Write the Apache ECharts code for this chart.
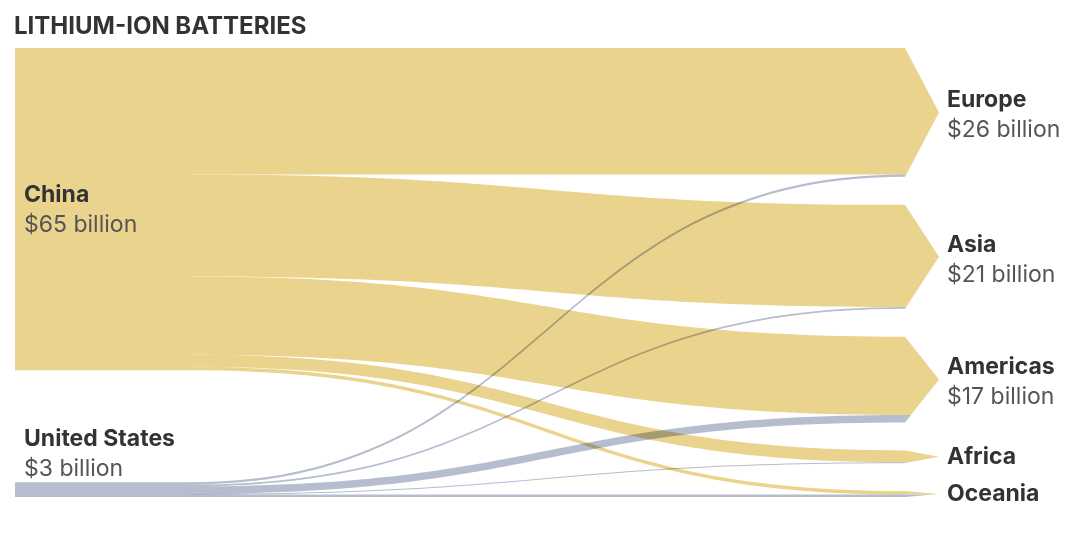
<!DOCTYPE html>
<html>
<head>
<meta charset="utf-8">
<script src="https://cdn.jsdelivr.net/npm/echarts@6/dist/echarts.min.js"></script>
<style>
html, body { margin: 0; padding: 0; background: #fff; }
#chart { width: 1089px; height: 537px; }
</style>
</head>
<body>
<div id="chart"></div>
<script>
// exporters and their totals
var sources = ['China', 'United States'];
var sourceLabels = ['$65 billion', '$3 billion'];
// destinations and their totals
var targets = ['Europe', 'Asia', 'Americas', 'Africa', 'Oceania'];
var targetLabels = ['$26 billion', '$21 billion', '$17 billion', '', ''];
// flows in billions of dollars, same order as targets
var chinaFlows = [25.5, 20.6, 15.8, 2.4, 0.7];
var usFlows = [0.5, 0.35, 1.5, 0.15, 0.5];

var YELLOW = '#EAD38D';
var GRAY = '#B5BDCE';
var FONT = 'Inter';
var TOP = 48, BOTTOM = 40, LEFT = 15, RIGHT = 9;
var GAP = 28, NODE_W = 175, ARROW_W = 34;

var chart = echarts.init(document.getElementById('chart'));

function sum(arr) {
    return arr.reduce(function (s, v) { return s + v; }, 0);
}

// push the US node to the bottom of the layout box
var H = chart.getHeight() - TOP - BOTTOM;
var ky = (H - (targets.length - 1) * GAP) / (sum(chinaFlows) + sum(usFlows));
var usLocalY = (H - sum(usFlows) * ky) / H;

var rich = {
    n: { fontFamily: FONT, fontSize: 23, fontWeight: 'bold', color: '#333', lineHeight: 30 },
    v: { fontFamily: FONT, fontSize: 23, color: '#555', lineHeight: 30 }
};

function labelText(name, val) {
    return val ? '{n|' + name + '}\n{v|' + val + '}' : '{n|' + name + '}';
}

var nodes = [];
nodes.push({
    name: sources[0],
    itemStyle: { color: YELLOW },
    label: { position: 'insideLeft', distance: 9, offset: [0, 1], formatter: labelText(sources[0], sourceLabels[0]) }
});
nodes.push({
    name: sources[1],
    localY: usLocalY,
    itemStyle: { color: GRAY },
    label: { position: [9, 2], align: 'left', verticalAlign: 'bottom', formatter: labelText(sources[1], sourceLabels[1]) }
});
targets.forEach(function (t, i) {
    nodes.push({
        name: t,
        itemStyle: { color: 'rgba(0,0,0,0)' },
        label: {
            position: 'insideLeft',
            distance: ARROW_W + 8,
            offset: [0, targetLabels[i] ? 3 : 0],
            formatter: labelText(t, targetLabels[i])
        }
    });
});

var links = [];
targets.forEach(function (t, i) {
    links.push({ source: sources[0], target: t, value: chinaFlows[i], lineStyle: { color: YELLOW } });
});
targets.forEach(function (t, i) {
    links.push({ source: sources[1], target: t, value: usFlows[i], lineStyle: { color: GRAY } });
});

var option = {
    backgroundColor: '#fff',
    animation: false,
    title: {
        text: 'LITHIUM-ION BATTERIES',
        left: 14,
        top: 15,
        padding: 0,
        textStyle: { fontFamily: FONT, fontSize: 24, fontWeight: 'bold', color: '#333' }
    },
    series: [{
        type: 'sankey',
        left: LEFT,
        right: RIGHT,
        top: TOP,
        bottom: BOTTOM,
        nodeWidth: NODE_W,
        nodeGap: GAP,
        layoutIterations: 0,
        draggable: false,
        emphasis: { disabled: true },
        itemStyle: { borderWidth: 0 },
        lineStyle: { opacity: 1, curveness: 0.5 },
        label: { show: true, rich: rich },
        data: nodes,
        links: links
    }]
};
chart.setOption(option);

// arrow heads on the destination nodes, split by the bands that arrive there
var graph = chart.getModel().getSeriesByIndex(0).getGraph();
var arrows = [];
graph.eachEdge(function (edge) {
    var n = edge.node2.getLayout();
    var e = edge.getLayout();
    var x0 = LEFT + n.x;
    var yT = TOP + n.y;
    var half = n.dy / 2;
    var yM = yT + half;
    var a = yT + e.ty;
    var b = a + e.dy;
    var xr = function (y) { return x0 + ARROW_W * (1 - Math.abs(y - yM) / half); };
    var pts = [[x0, a], [xr(a), a]];
    if (a < yM && b > yM) pts.push([x0 + ARROW_W, yM]);
    pts.push([xr(b), b], [x0, b]);
    arrows.push({
        type: 'polygon',
        silent: true,
        z: 10,
        shape: { points: pts },
        style: { fill: edge.getModel().get('lineStyle.color') }
    });
});
chart.setOption({ graphic: arrows });

// grey bands darken the yellow ones where they cross
chart.getZr().storage.getDisplayList(true).forEach(function (el) {
    if (el.style && el.style.fill === GRAY && el.shape && el.shape.cpx1 !== undefined) {
        el.style.blend = 'multiply';
        el.markRedraw();
    }
});
chart.getZr().refresh();
</script>
</body>
</html>
